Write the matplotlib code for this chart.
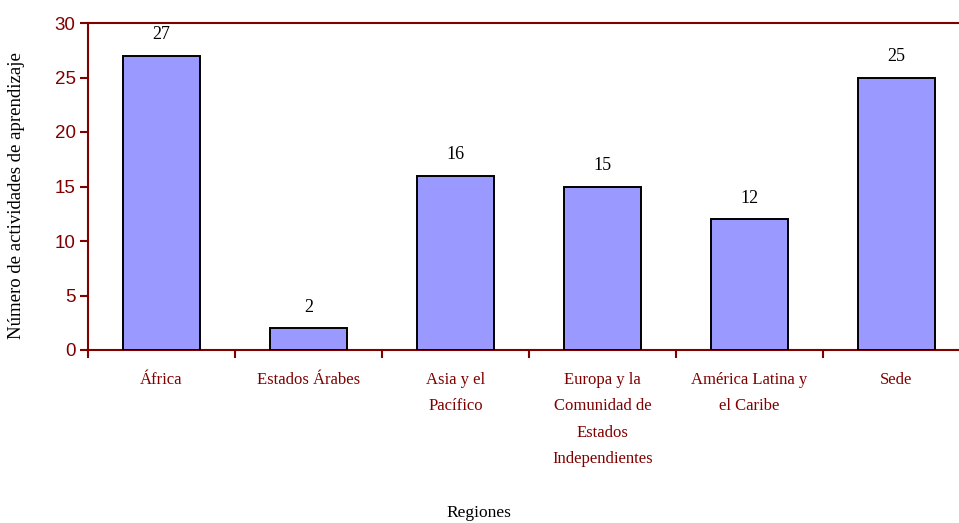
import matplotlib
matplotlib.use("Agg")
import matplotlib.pyplot as plt

categories = ["África", "Estados Árabes", "Asia y el\nPacífico",
              "Europa y la\nComunidad de\nEstados\nIndependientes",
              "América Latina y\nel Caribe", "Sede"]
values = [27, 2, 16, 15, 12, 25]
yticks = [0, 5, 10, 15, 20, 25, 30]

DARK_RED = "#800000"
W, H = 959, 523
fig = plt.figure(figsize=(W / 100, H / 100), dpi=100)
left, right, top, bottom = 88, 970, 23, 350
ax = fig.add_axes([left / W, 1 - bottom / H, (right - left) / W, (bottom - top) / H])

x = list(range(len(categories)))
ax.bar(x, values, width=0.52, color="#9999FF", edgecolor="black", linewidth=1.4, zorder=3)
for xi, v in zip(x, values):
    ax.annotate(str(v), (xi, v), xytext=(0, 15), textcoords="offset points",
                ha="center", va="center", fontsize=13, family="Liberation Serif", color="black")

ax.set_xlim(-0.5, len(categories) - 0.5)
ax.set_ylim(0, 30)
ax.set_yticks(yticks)
ax.set_yticklabels([str(t) for t in yticks], family="Liberation Sans", fontsize=13.5, color=DARK_RED)

ax.set_xticks([i - 0.5 for i in range(len(categories) + 1)])
ax.set_xticklabels([])
ax.set_xticks(x, minor=True)
ax.set_xticklabels(categories, minor=True, family="Liberation Serif", fontsize=12,
                   color=DARK_RED, linespacing=1.85, va="top")
ax.tick_params(axis="x", which="minor", length=0, pad=16)
ax.tick_params(axis="x", which="major", length=6, width=1.5, color=DARK_RED, direction="out")
ax.tick_params(axis="y", length=6, width=1.5, color=DARK_RED, direction="out", pad=3)

for s in ["left", "bottom", "top"]:
    ax.spines[s].set_color(DARK_RED)
    ax.spines[s].set_linewidth(1.5)
ax.spines["right"].set_visible(False)

fig.text(17 / W, 1 - 196 / H, "Número de actividades de aprendizaje", rotation=90,
         ha="center", va="center", family="Liberation Serif", fontsize=13.5, color="black")
fig.text(479 / W, 1 - 513 / H, "Regiones", ha="center", va="center",
         family="Liberation Serif", fontsize=12.5, color="black")

fig.savefig("out.png", dpi=100)
